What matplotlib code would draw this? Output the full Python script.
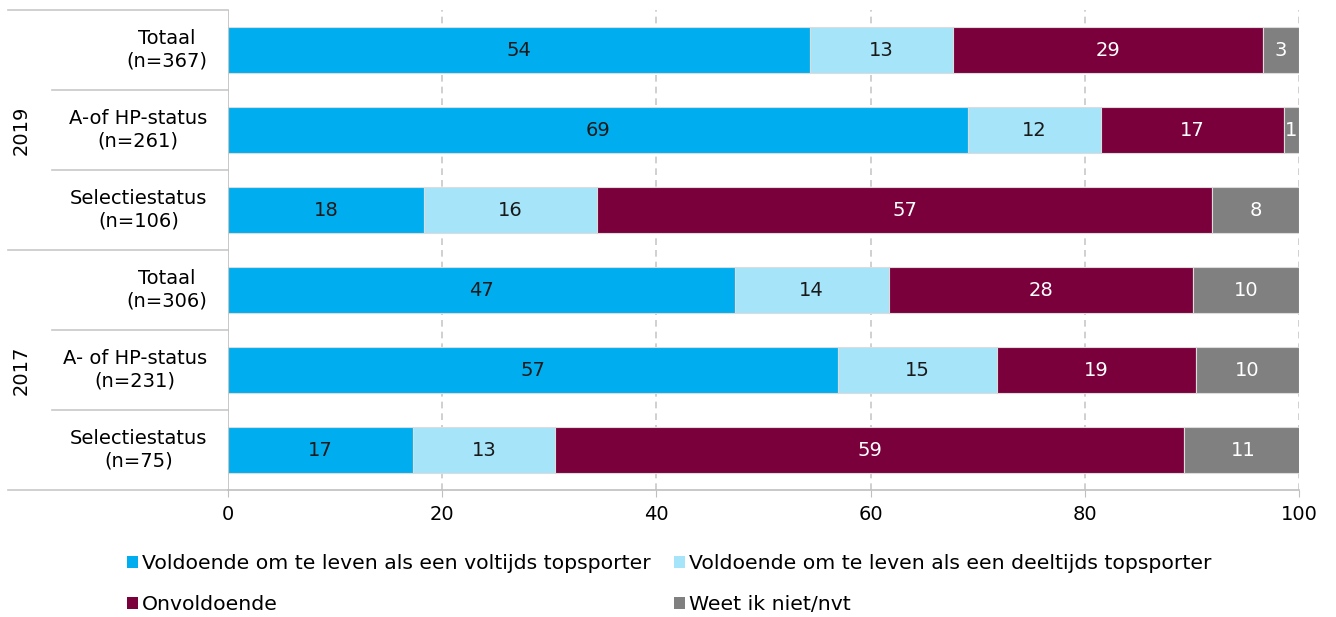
import matplotlib
matplotlib.use("Agg")
import matplotlib.pyplot as plt
from matplotlib.lines import Line2D
import numpy as np

plt.rcParams['font.family'] = ['DejaVu Sans']

categories = ["Totaal\n(n=367)", "A-of HP-status\n(n=261)", "Selectiestatus\n(n=106)",
              "Totaal\n(n=306)", "A- of HP-status\n(n=231)", "Selectiestatus\n(n=75)"]
groups = ["2019", "2017"]
series_names = ["Voldoende om te leven als een voltijds topsporter",
                "Voldoende om te leven als een deeltijds topsporter",
                "Onvoldoende",
                "Weet ik niet/nvt"]
voltijds = [54.3, 69.1, 18.3, 47.3, 57.0, 17.3]
deeltijds = [13.4, 12.4, 16.2, 14.4, 14.8, 13.2]
onvoldoende = [28.9, 17.1, 57.4, 28.4, 18.6, 58.8]
weet_niet = [3.4, 1.4, 8.1, 9.9, 9.6, 11.0]
xticks = [0, 20, 40, 60, 80, 100]

colors = ["#00AEEF", "#A6E4FA", "#7A003C", "#808080"]
text_colors = ["#1a1a1a", "#1a1a1a", "white", "white"]
FS = 14

fig = plt.figure(figsize=(13.36, 6.17), dpi=100)
ax = fig.add_axes([228/1336, 1-490/617, (1299-228)/1336, 480/617])

series = [voltijds, deeltijds, onvoldoende, weet_niet]
y = np.arange(len(categories))
left = np.zeros(len(categories))
for vals, c, tc, name in zip(series, colors, text_colors, series_names):
    vals = np.array(vals)
    ax.barh(y, vals, left=left, height=0.575, color=c, edgecolor="#dcdcdc",
            linewidth=0.8, label=name, zorder=3)
    for yi, l, v in zip(y, left, vals):
        ax.text(l + v/2, yi, f"{round(v):d}", ha="center", va="center",
                color=tc, fontsize=FS, zorder=4)
    left = left + vals

ax.set_ylim(len(categories) - 0.5, -0.5)
ax.set_xlim(0, 100)
ax.set_xticks(xticks)
ax.set_xticklabels([str(t) for t in xticks], fontsize=FS)
ax.tick_params(axis="x", length=5, color="#bfbfbf", pad=6)
ax.set_yticks([])
for s in ["top", "right", "left"]:
    ax.spines[s].set_visible(False)
ax.spines["bottom"].set_color("#bfbfbf")
ax.spines["bottom"].set_linewidth(1.2)
for t in xticks[1:]:
    ax.axvline(t, color="#c8c8c8", linestyle=(0, (4, 3)), linewidth=1.2, zorder=1)
ax.axvline(0, color="#bfbfbf", linewidth=1.2, zorder=5)

# left labels and separators
trans = ax.get_yaxis_transform()
for i, cat in enumerate(categories):
    ax.text(-21/1071, i, cat, transform=trans, ha="right", va="center",
            multialignment="center", fontsize=FS, linespacing=1.25)
for b in [0.5, 1.5, 3.5, 4.5]:
    ax.add_line(Line2D([-176/1071, 0], [b, b], transform=trans, color="#c8c8c8",
                       linewidth=1.2, clip_on=False))
for b in [-0.5, 2.5, 5.5]:
    ax.add_line(Line2D([-220/1071, 0], [b, b], transform=trans, color="#c8c8c8",
                       linewidth=1.2, clip_on=False))
for g, yc in zip(groups, [1, 4]):
    ax.text(-207/1071, yc, g, transform=trans, rotation=90, ha="center",
            va="center", fontsize=FS)

handles, labels = ax.get_legend_handles_labels()
order = [0, 2, 1, 3]
leg = fig.legend([handles[i] for i in order], [labels[i] for i in order],
                 loc="upper left", bbox_to_anchor=(127/1336, 1-554/617), ncol=2,
                 frameon=False, fontsize=14.7, handlelength=0.55, handleheight=0.55,
                 handletextpad=0.2, columnspacing=1.1, labelspacing=1.1,
                 borderaxespad=0, borderpad=0)
for h in leg.legend_handles:
    h.set_edgecolor("none")

fig.savefig("out.png", dpi=100)
